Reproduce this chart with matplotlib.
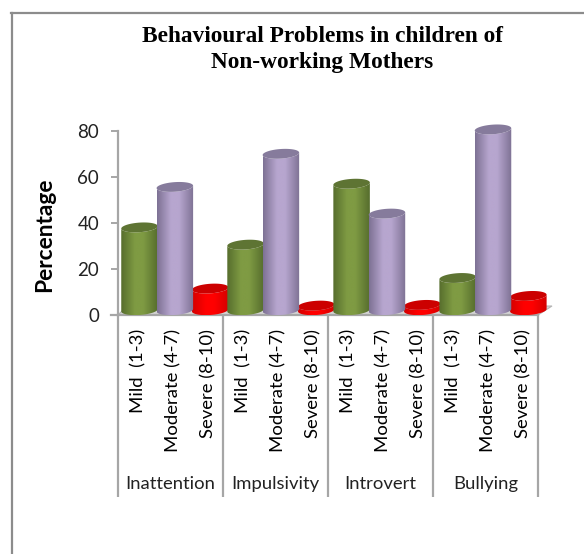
import numpy as np
import matplotlib
matplotlib.use("Agg")
import matplotlib.pyplot as plt
from matplotlib.patches import Polygon, PathPatch
from matplotlib.path import Path
from matplotlib.colors import LinearSegmentedColormap

W, H = 584, 554
title_lines = "Behavioural Problems in children of\nNon-working Mothers"
groups = ["Inattention", "Impulsivity", "Introvert", "Bullying"]
levels = ["Mild  (1-3)", "Moderate (4-7)", "Severe (8-10)"]
mild = [36, 28.5, 55, 14]
moderate = [53.6, 68, 42, 78.6]
severe = [9.4, 2, 2.3, 6.2]
yticks = [0, 20, 40, 60, 80]

fig = plt.figure(figsize=(W / 100, H / 100), dpi=100)
L, R, Y0, Y80 = 118, 538, 315, 131
ax = fig.add_axes([L / W, 1 - Y0 / H, (R - L) / W, (Y0 - Y80) / H])
ax.set_xlim(0, 12)
ax.set_ylim(0, 80)
ax.patch.set_alpha(0)
pxx = 12 / (R - L)
pxy = 80 / (Y0 - Y80)
GRAY = "#a6a6a6"

# figure frame (top and left only)
fig.add_artist(plt.Line2D([11.5 / W, 11.5 / W], [0, 1 - 13 / H], color="#8c8c8c", lw=1.6))
fig.add_artist(plt.Line2D([11 / W, 1], [1 - 13 / H, 1 - 13 / H], color="#8c8c8c", lw=1.6))

# floor
ax.add_patch(Polygon([(0, 0), (12, 0), (12 + 14 * pxx, 9 * pxy), (5 * pxx, 5 * pxy)],
                     closed=True, fc="#d4d4d4", ec="#b5b5b5", lw=0.8, clip_on=False, zorder=1))


def cyl(x, v, edge, mid, top, z):
    a = 0.5 * 36.5 * pxx
    b = 4.8 * pxy
    k = 1.2 * pxy
    base = b
    cmap = LinearSegmentedColormap.from_list(
        "c", [(0, edge), (0.38, mid), (0.6, mid), (1, edge)], N=256)
    grad = np.linspace(0, 1, 256).reshape(1, -1)
    t = np.linspace(np.pi, 2 * np.pi, 40)
    xs = x + a * np.cos(t)
    lowb = base + b * np.sin(t) + k * np.cos(t)
    lowt = (v + base) + b * np.sin(t) + k * np.cos(t)
    pts = np.vstack([np.column_stack([xs, lowb]),
                     np.column_stack([xs[::-1], lowt[::-1]])])
    clip = PathPatch(Path(np.vstack([pts, pts[0]]), closed=True), transform=ax.transData)
    im = ax.imshow(grad, cmap=cmap, extent=[x - a, x + a, 0, v + 2 * base + 1],
                   aspect="auto", zorder=z, interpolation="bilinear", clip_on=True)
    im.set_clip_box(fig.bbox)
    im.set_clip_path(clip)
    tt = np.linspace(0, 2 * np.pi, 80)
    ax.add_patch(Polygon(np.column_stack([x + a * np.cos(tt),
                                          v + base + b * np.sin(tt) + k * np.cos(tt)]),
                         closed=True, fc=top, ec="none", zorder=z + 0.1, clip_on=False))


OFF = 4 * pxx
STEP = 35.35 / 35
styles = [
    (severe, 2, "#d40000", "#ff0000", "#cc0000", 3),
    (mild, 0, "#566d2d", "#7f9b43", "#5e7433", 4),
    (moderate, 1, "#7d7193", "#b7a6cf", "#867b9c", 5),
]
for vals, pos, e, m, tp, z in styles:
    for g, v in enumerate(vals):
        cyl(0.5 + (g * 3 + pos) * STEP + OFF, v, e, m, tp, z)
ax.set_xlim(0, 12)
ax.set_ylim(0, 80)

# axes
for s in ("top", "right"):
    ax.spines[s].set_visible(False)
for s in ("left", "bottom"):
    ax.spines[s].set_color(GRAY)
    ax.spines[s].set_linewidth(1.6)
ax.set_yticks(yticks)
ax.set_xticks([])
ax.tick_params(axis="y", length=5, width=1.4, color=GRAY, pad=8.5)
for lb in ax.get_yticklabels():
    lb.set_fontfamily("Lato")
    lb.set_fontsize(13.5)
    lb.set_color("#222222")
ax.set_ylabel("Percentage", family="Lato", weight="bold", fontsize=16.4, color="black")
ax.yaxis.set_label_coords((55 - L) / (R - L), (Y0 - 235) / (Y0 - Y80))

# multi-level category axis
yb = -(497 - Y0) * pxy
ax.vlines(np.arange(0, 13, 3), yb, 0, color=GRAY, lw=1.6, clip_on=False)
ax.plot([-7 * pxx, 0], [0, 0], color=GRAY, lw=1.6, clip_on=False)
for g, name in enumerate(groups):
    ax.text(g * 3 + 1.5, -(484 - Y0) * pxy, name, family="Lato", fontsize=13.3,
            color="#222222", ha="center", va="center", clip_on=False)
    for i, lv in enumerate(levels):
        ax.text(g * 3 + i + 0.5 + 2.5 * pxx, -(329 - Y0) * pxy, lv, family="Lato", fontsize=13.3,
                color="black", rotation=90, ha="center", va="top", clip_on=False)

fig.text(322 / W, 1 - 49.5 / H, title_lines, family="Liberation Serif", weight="bold",
         fontsize=16.8, ha="center", va="center", linespacing=1.3, color="black")
fig.savefig("out.png", dpi=100, facecolor="white")
